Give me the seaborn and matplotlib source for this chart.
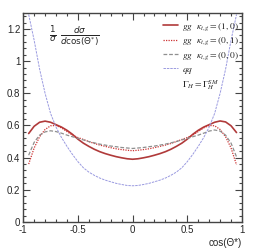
import numpy as np
import pandas as pd
import matplotlib
matplotlib.use('Agg')
import matplotlib.pyplot as plt
import seaborn as sns
from matplotlib.lines import Line2D
from matplotlib.ticker import MultipleLocator

# cos(theta*) sampling points
cos_theta = [-0.95, -0.90, -0.85, -0.80, -0.75, -0.70, -0.65, -0.60, -0.55, -0.50,
             -0.45, -0.40, -0.35, -0.30, -0.25, -0.20, -0.15, -0.10, -0.05, 0.0,
             0.05, 0.10, 0.15, 0.20, 0.25, 0.30, 0.35, 0.40, 0.45, 0.50,
             0.55, 0.60, 0.65, 0.70, 0.75, 0.80, 0.85, 0.90, 0.95]

# gg kappa=(1,0)
gg_10 = [0.550, 0.595, 0.620, 0.627, 0.620, 0.605, 0.590, 0.570, 0.545, 0.515,
         0.490, 0.470, 0.452, 0.437, 0.425, 0.415, 0.406, 0.399, 0.393, 0.390,
         0.393, 0.399, 0.406, 0.415, 0.425, 0.437, 0.452, 0.470, 0.490, 0.515,
         0.545, 0.570, 0.590, 0.605, 0.620, 0.628, 0.622, 0.598, 0.556]
# gg kappa=(0,1)
gg_01 = [0.360, 0.460, 0.530, 0.575, 0.598, 0.600, 0.585, 0.562, 0.540, 0.525,
         0.513, 0.500, 0.488, 0.478, 0.470, 0.462, 0.455, 0.450, 0.446, 0.443,
         0.446, 0.450, 0.455, 0.462, 0.470, 0.478, 0.488, 0.500, 0.513, 0.525,
         0.540, 0.562, 0.585, 0.600, 0.598, 0.575, 0.530, 0.460, 0.355]
# gg kappa=(0,0)
gg_00 = [0.415, 0.495, 0.540, 0.560, 0.567, 0.562, 0.552, 0.540, 0.530, 0.520,
         0.510, 0.500, 0.492, 0.484, 0.478, 0.472, 0.468, 0.463, 0.460, 0.457,
         0.460, 0.463, 0.468, 0.472, 0.478, 0.484, 0.492, 0.500, 0.510, 0.520,
         0.530, 0.540, 0.552, 0.565, 0.572, 0.565, 0.540, 0.490, 0.405]
# qq
qq = [1.290, 1.130, 0.950, 0.800, 0.675, 0.590, 0.525, 0.470, 0.420, 0.375,
      0.337, 0.310, 0.290, 0.273, 0.260, 0.250, 0.240, 0.233, 0.227, 0.225,
      0.227, 0.233, 0.240, 0.250, 0.260, 0.273, 0.290, 0.310, 0.337, 0.375,
      0.420, 0.470, 0.525, 0.590, 0.675, 0.800, 0.950, 1.130, 1.290]

labels = [r'$\mathit{gg}\ \ \kappa_{t,g}\mathit{=(1,0)}$',
          r'$\mathit{gg}\ \ \kappa_{t,g}\mathit{=(0,1)}$',
          r'$\mathit{gg}\ \ \kappa_{t,g}\mathit{=(0,0)}$',
          r'$\mathit{qq}$']

sns.set_style('ticks')
plt.rcParams['font.family'] = ['Liberation Sans', 'DejaVu Sans']

fig = plt.figure(figsize=(2.55, 2.48), dpi=100)
ax = fig.add_axes([0.091, 0.105, 0.858, 0.843])

styles = [
    ('#b03a3a', '-', 1.2),
    ('#cc3333', (0, (1, 1)), 0.9),
    ('#8f8f8f', (0, (3, 1.5)), 0.9),
    ('#9a9ae0', (0, (2.5, 1)), 0.7),
]
for vals, lab, (col, ls, lw) in zip([gg_10, gg_01, gg_00, qq], labels, styles):
    df = pd.DataFrame({'cos': cos_theta, 'val': vals})
    sns.lineplot(data=df, x='cos', y='val', ax=ax, color=col, linestyle=ls,
                 linewidth=lw, label=lab)

ax.set_xlim(-1, 1)
ax.set_ylim(0, 1.3)
ax.xaxis.set_major_locator(MultipleLocator(0.5))
ax.xaxis.set_minor_locator(MultipleLocator(0.1))
ax.yaxis.set_major_locator(MultipleLocator(0.2))
ax.yaxis.set_minor_locator(MultipleLocator(0.04))
ax.xaxis.set_major_formatter(plt.FuncFormatter(lambda v, p: f'{v:g}'))
ax.yaxis.set_major_formatter(plt.FuncFormatter(lambda v, p: f'{v:g}'))
ax.tick_params(which='both', direction='in', top=True, right=True,
               labelsize=7, width=0.8, color='#444444', pad=2)
ax.tick_params(which='major', length=5)
ax.tick_params(which='minor', length=2.5)
for sp in ax.spines.values():
    sp.set_linewidth(1.0)
    sp.set_color('#444444')

ax.set_xlabel('cos(Θ*)', fontsize=7, loc='right', labelpad=2)
ax.set_ylabel('')

ax.text(0.12, 0.885, r'$\frac{1}{\sigma}\ \frac{d\sigma}{d\mathrm{cos}(\Theta^{*})}$',
        transform=ax.transAxes, fontsize=9, va='center', ha='left',
        math_fontfamily='dejavusans')

handles, labs = ax.get_legend_handles_labels()
handles.append(Line2D([], [], color='none'))
labs.append(r'$\Gamma_{H}\mathit{=}\Gamma_{H}^{SM}$')
leg = ax.legend(handles, labs, loc='upper left', bbox_to_anchor=(0.62, 0.98),
                frameon=False, fontsize=6.8, handlelength=1.6, handletextpad=0.4,
                labelspacing=0.3, borderaxespad=0)
for t in leg.get_texts():
    t.set_math_fontfamily('stix')

fig.savefig('out.png', dpi=100)
